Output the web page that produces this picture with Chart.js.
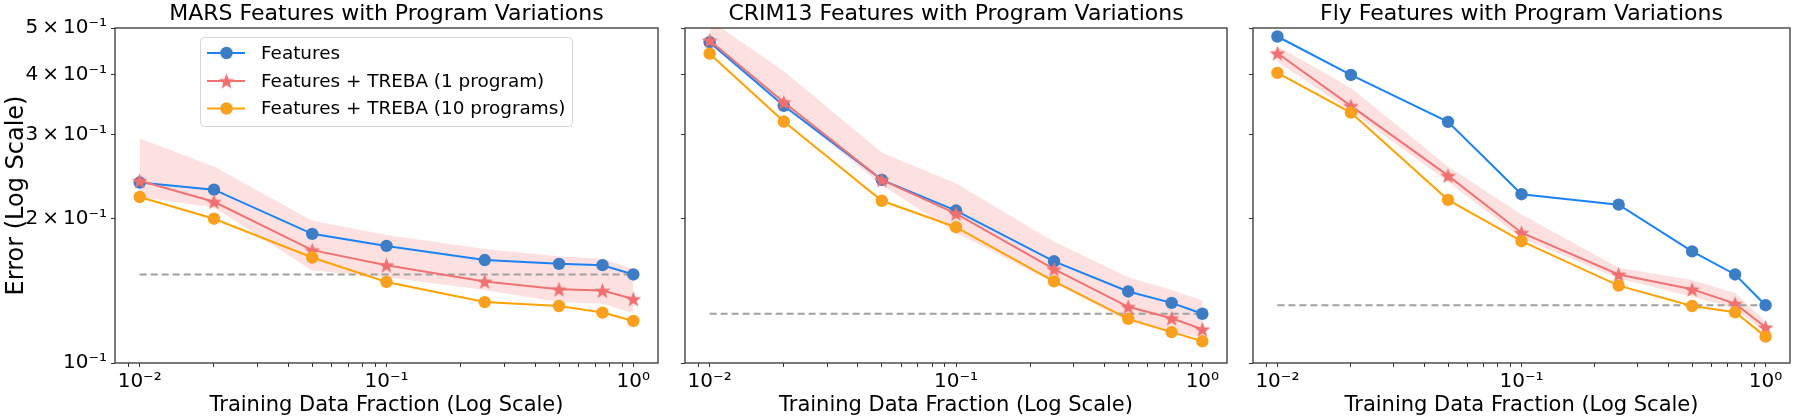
<!DOCTYPE html>
<html>
<head>
<meta charset="utf-8">
<script src="https://cdn.jsdelivr.net/npm/chart.js@4.4.1/dist/chart.umd.min.js"></script>
<style>
html,body{margin:0;padding:0;background:#ffffff;}
#wrap{position:relative;width:1800px;height:420px;overflow:hidden;background:#fff;}
canvas{position:absolute;top:0;}
</style>
</head>
<body>
<div id="wrap">
<canvas id="c1" width="672" height="420" style="left:0px;width:672px;height:420px"></canvas>
<canvas id="c2" width="568" height="420" style="left:672px;width:568px;height:420px"></canvas>
<canvas id="c3" width="560" height="420" style="left:1240px;width:560px;height:420px"></canvas>
</div>
<script>
// ---------------- data ----------------
const xFractions = [0.01, 0.02, 0.05, 0.1, 0.25, 0.5, 0.75, 1.0];
const seriesNames = ['Features', 'Features + TREBA (1 program)', 'Features + TREBA (10 programs)'];
const panelTitles = ['MARS Features with Program Variations', 'CRIM13 Features with Program Variations', 'Fly Features with Program Variations'];

const marsFeatures   = [0.238, 0.230, 0.186, 0.1755, 0.164, 0.161, 0.160, 0.153];
const mars1Program   = [0.240, 0.217, 0.172, 0.160, 0.148, 0.1425, 0.1416, 0.136];
const mars10Programs = [0.222, 0.200, 0.166, 0.1476, 0.134, 0.1315, 0.1274, 0.1224];
const mars1ProgHigh  = [0.294, 0.257, 0.198, 0.185, 0.173, 0.167, 0.165, 0.157];
const mars1ProgLow   = [0.222, 0.211, 0.156, 0.151, 0.142, 0.134, 0.133, 0.127];
const marsBaseline   = 0.153;

const crimFeatures   = [0.467, 0.344, 0.241, 0.208, 0.163, 0.141, 0.1335, 0.1267];
const crim1Program   = [0.471, 0.350, 0.241, 0.205, 0.157, 0.131, 0.124, 0.1176];
const crim10Programs = [0.442, 0.319, 0.218, 0.192, 0.148, 0.1236, 0.116, 0.111];
const crim1ProgHigh  = [0.520, 0.406, 0.275, 0.237, 0.179, 0.151, 0.142, 0.135];
const crim1ProgLow   = [0.462, 0.343, 0.235, 0.187, 0.147, 0.122, 0.1155, 0.1135];
const crimBaseline   = 0.1267;

const flyFeatures    = [0.480, 0.399, 0.3185, 0.225, 0.214, 0.171, 0.153, 0.132];
const fly1Program    = [0.443, 0.344, 0.246, 0.187, 0.153, 0.1425, 0.133, 0.1187];
const fly10Programs  = [0.403, 0.333, 0.219, 0.1795, 0.145, 0.1315, 0.1276, 0.1135];
const fly1ProgHigh   = [0.458, 0.375, 0.257, 0.204, 0.158, 0.149, 0.140, 0.122];
const fly1ProgLow    = [0.425, 0.335, 0.239, 0.182, 0.150, 0.1375, 0.130, 0.116];
const flyBaseline    = 0.132;

const yTickVals   = [0.1, 0.2, 0.3, 0.4, 0.5];
const yTickLabels = ['10\u207B\u00B9', '2\u2009\u00D7\u200910\u207B\u00B9', '3\u2009\u00D7\u200910\u207B\u00B9', '4\u2009\u00D7\u200910\u207B\u00B9', '5\u2009\u00D7\u200910\u207B\u00B9'];
const xTickVals   = [0.009, 0.01, 0.02, 0.03, 0.04, 0.05, 0.06, 0.07, 0.08, 0.09, 0.1, 0.2, 0.3, 0.4, 0.5, 0.6, 0.7, 0.8, 0.9, 1];
const xMajorVals  = [0.01, 0.1, 1];
const xMajorLabels = ['10\u207B\u00B2', '10\u207B\u00B9', '10\u2070'];

// ---------------- style ----------------
const FONT = 'DejaVu Sans';
const C_BLUE_LINE = '#1a82f4', C_BLUE_PT = '#3d7dc6';
const C_RED_LINE = '#f07272', C_RED_PT = '#ef7070';
const C_OR_LINE = '#ffa202', C_OR_PT = '#f9a11e';
const C_BAND = 'rgba(248,168,168,0.34)';
const C_BASE = '#a0a0a0';
const C_AXIS = '#333333';

function makeStar(color, size) {
  const c = document.createElement('canvas');
  c.width = size; c.height = size;
  const g = c.getContext('2d');
  const cx = size / 2, cy = size / 2 + size * 0.05;
  const R = size / 2 - 0.2, r = R * 0.42;
  g.beginPath();
  for (let i = 0; i < 10; i++) {
    const a = -Math.PI / 2 + i * Math.PI / 5;
    const rr = (i % 2) ? r : R;
    g.lineTo(cx + rr * Math.cos(a), cy + rr * Math.sin(a));
  }
  g.closePath();
  g.fillStyle = color;
  g.fill();
  return c;
}
const starImg = makeStar(C_RED_PT, 17);

const xy = (ys) => xFractions.map((x, i) => ({x: x, y: ys[i]}));

function panelDatasets(feat, p1, p10, hi, lo, base) {
  return [
    {label: 'hi', data: xy(hi), borderWidth: 0, pointRadius: 0, fill: false, order: 10, borderColor: 'rgba(0,0,0,0)'},
    {label: 'lo', data: xy(lo), borderWidth: 0, pointRadius: 0, fill: '-1', backgroundColor: C_BAND, order: 9, borderColor: 'rgba(0,0,0,0)'},
    {label: 'base', data: [{x: xFractions[0], y: base}, {x: xFractions[xFractions.length - 1], y: base}],
      borderColor: C_BASE, borderWidth: 2, borderDash: [7, 4], pointRadius: 0, fill: false, order: 8},
    {label: seriesNames[0], data: xy(feat), borderColor: C_BLUE_LINE, borderWidth: 2, pointRadius: 6.2,
      pointBackgroundColor: C_BLUE_PT, pointBorderColor: C_BLUE_PT, pointBorderWidth: 0, fill: false, order: 3},
    {label: seriesNames[1], data: xy(p1), borderColor: C_RED_LINE, borderWidth: 2, pointStyle: starImg, pointRadius: 8,
      fill: false, order: 2},
    {label: seriesNames[2], data: xy(p10), borderColor: C_OR_LINE, borderWidth: 2, pointRadius: 6.2,
      pointBackgroundColor: C_OR_PT, pointBorderColor: C_OR_PT, pointBorderWidth: 0, fill: false, order: 1}
  ];
}

const spinePlugin = {
  id: 'spines',
  afterDraw(chart) {
    const a = chart.chartArea, ctx = chart.ctx;
    ctx.save();
    ctx.strokeStyle = C_AXIS;
    ctx.lineWidth = 1.3;
    ctx.strokeRect(a.left, a.top, a.right - a.left, a.bottom - a.top);
    ctx.restore();
  }
};

const legendPlugin = {
  id: 'insideLegend',
  afterDraw(chart, args, opts) {
    if (!opts || !opts.show) return;
    const ctx = chart.ctx;
    const bx = 200.5, by = 37.5, bw = 372, bh = 89;
    ctx.save();
    ctx.beginPath();
    ctx.roundRect(bx, by, bw, bh, 4);
    ctx.fillStyle = 'rgba(255,255,255,0.85)';
    ctx.fill();
    ctx.strokeStyle = '#d6d6d6';
    ctx.lineWidth = 1;
    ctx.stroke();
    const rows = [53, 81, 108.5];
    const lineCols = [C_BLUE_LINE, C_RED_LINE, C_OR_LINE];
    const ptCols = [C_BLUE_PT, null, C_OR_PT];
    for (let i = 0; i < 3; i++) {
      const y = rows[i];
      ctx.beginPath();
      ctx.moveTo(207, y); ctx.lineTo(245, y);
      ctx.strokeStyle = lineCols[i]; ctx.lineWidth = 2; ctx.stroke();
      if (ptCols[i]) {
        ctx.beginPath(); ctx.arc(226.5, y, 6.2, 0, Math.PI * 2);
        ctx.fillStyle = ptCols[i]; ctx.fill();
      } else {
        ctx.drawImage(starImg, 226.5 - starImg.width / 2, y - starImg.height / 2);
      }
      ctx.fillStyle = '#000';
      ctx.font = '18.4px "' + FONT + '"';
      ctx.textBaseline = 'middle';
      ctx.textAlign = 'left';
      ctx.fillText(seriesNames[i], 261, y + 1);
    }
    ctx.restore();
  }
};

function makeChart(id, title, datasets, yAxisWidth, showYLabels, showLegend, rightPad) {
  const ctx = document.getElementById(id).getContext('2d');
  return new Chart(ctx, {
    type: 'line',
    data: {datasets: datasets},
    options: {
      responsive: false,
      animation: false,
      devicePixelRatio: 1,
      layout: {padding: {left: 0, right: rightPad, top: 0, bottom: 0}},
      plugins: {
        legend: {display: false},
        tooltip: {enabled: false},
        filler: {drawTime: 'beforeDatasetsDraw'},
        title: {display: true, text: title, color: '#000', fullSize: false,
          font: {family: FONT, size: 22, weight: 'normal', lineHeight: 1.2}, padding: {top: 1, bottom: 0.6}},
        insideLegend: {show: showLegend}
      },
      scales: {
        x: {
          type: 'logarithmic',
          min: Math.pow(10, -2.1),
          max: Math.pow(10, 0.1),
          afterBuildTicks: (s) => { s.ticks = xTickVals.map(v => ({value: v})); },
          afterFit: (s) => { s.height = 57; },
          ticks: {
            autoSkip: false, maxRotation: 0, minRotation: 0, padding: 3, color: '#000',
            font: {family: FONT, size: 20},
            callback: (v) => {
              const k = xMajorVals.findIndex(m => Math.abs(m - v) < 1e-9);
              return k >= 0 ? xMajorLabels[k] : '';
            }
          },
          grid: {drawOnChartArea: false, drawTicks: true, tickLength: 4, tickColor: C_AXIS, tickWidth: 1},
          border: {display: false},
          title: {display: true, text: 'Training Data Fraction (Log Scale)', color: '#000',
            font: {family: FONT, size: 21}, padding: {top: 0, bottom: 1.4}}
        },
        y: {
          type: 'logarithmic',
          min: 0.1,
          max: 0.5,
          afterBuildTicks: (s) => { s.ticks = yTickVals.map(v => ({value: v})); },
          afterFit: (s) => { s.width = yAxisWidth; },
          ticks: {
            autoSkip: false, padding: 4, color: '#000',
            font: {family: FONT, size: 20},
            callback: (v) => {
              if (!showYLabels) return '';
              const k = yTickVals.findIndex(m => Math.abs(m - v) < 1e-9);
              return k >= 0 ? yTickLabels[k] : '';
            }
          },
          grid: {drawOnChartArea: false, drawTicks: true, tickLength: 4, tickColor: C_AXIS, tickWidth: 1},
          border: {display: false},
          title: {display: showYLabels, text: 'Error (Log Scale)', color: '#000',
            font: {family: FONT, size: 24}, padding: {top: 2, bottom: 0}}
        }
      }
    },
    plugins: [spinePlugin, legendPlugin]
  });
}

makeChart('c1', panelTitles[0], panelDatasets(marsFeatures, mars1Program, mars10Programs, mars1ProgHigh, mars1ProgLow, marsBaseline), 115, true, true, 14);
makeChart('c2', panelTitles[1], panelDatasets(crimFeatures, crim1Program, crim10Programs, crim1ProgHigh, crim1ProgLow, crimBaseline), 13, false, false, 13);
makeChart('c3', panelTitles[2], panelDatasets(flyFeatures, fly1Program, fly10Programs, fly1ProgHigh, fly1ProgLow, flyBaseline), 13, false, false, 5);
</script>
</body>
</html>
